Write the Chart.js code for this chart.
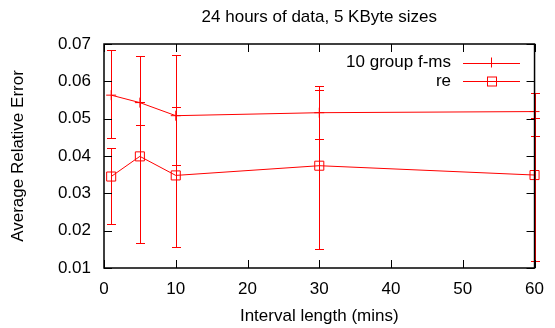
<!DOCTYPE html>
<html lang="en">
<head>
  <meta charset="UTF-8" />
  <title>24 hours of data, 5 KByte sizes</title>
  <script src="https://cdn.jsdelivr.net/npm/chart.js"></script>
  <style>
    html, body { margin: 0; padding: 0; background: #fff; }
    #wrap { width: 555px; height: 328px; }
  </style>
</head>
<body>
  <div id="wrap"><canvas id="chart"></canvas></div>

  <script>
    // interval lengths (mins)
    const intervals = [1, 5, 10, 30, 60];

    // 10 group f-ms: mean, low, high
    const fmsMean = [0.0563, 0.0543, 0.0508, 0.0516, 0.0519];
    const fmsLow  = [0.0448, 0.0482, 0.0376, 0.0445, 0.0454];
    const fmsHigh = [0.0684, 0.0668, 0.0670, 0.0577, 0.0568];

    // re: mean, low, high
    const reMean = [0.0345, 0.0399, 0.0348, 0.0374, 0.0349];
    const reLow  = [0.0218, 0.0168, 0.0155, 0.0151, 0.0119];
    const reHigh = [0.0421, 0.0545, 0.0530, 0.0587, 0.0501];

    const xTicks = [0, 10, 20, 30, 40, 50, 60];
    const yTicks = [0.01, 0.02, 0.03, 0.04, 0.05, 0.06, 0.07];

    const TITLE = "24 hours of data, 5 KByte sizes";
    const RED = "#ff0000";
    const FONT = { family: "'Liberation Sans', Arial, sans-serif", size: 17 };

    const toPoints = (ys) => intervals.map((x, i) => ({ x: x, y: ys[i] }));

    // error bars, drawn through the chart scales
    const errorBars = {
      id: "errorBars",
      beforeDatasetsDraw(chart) {
        const { ctx, scales: { x, y } } = chart;
        const sets = [[fmsLow, fmsHigh], [reLow, reHigh]];
        ctx.save();
        ctx.strokeStyle = RED;
        ctx.lineWidth = 1;
        sets.forEach(([lo, hi]) => {
          intervals.forEach((v, i) => {
            const px = Math.round(x.getPixelForValue(v)) + 0.5;
            const y1 = Math.round(y.getPixelForValue(lo[i])) + 0.5;
            const y2 = Math.round(y.getPixelForValue(hi[i])) + 0.5;
            ctx.beginPath();
            ctx.moveTo(px, y1); ctx.lineTo(px, y2);
            ctx.moveTo(px - 4.5, y1); ctx.lineTo(px + 4.5, y1);
            ctx.moveTo(px - 4.5, y2); ctx.lineTo(px + 4.5, y2);
            ctx.stroke();
          });
        });
        ctx.restore();
      }
    };

    // gnuplot style frame with inward ticks on all sides, title and key
    const frame = {
      id: "frame",
      afterDraw(chart) {
        const { ctx, chartArea: a, scales: { x, y } } = chart;
        ctx.save();
        ctx.strokeStyle = "#000";
        ctx.lineWidth = 1.5;
        ctx.strokeRect(a.left, a.top, a.right - a.left, a.bottom - a.top);
        ctx.lineWidth = 1;
        ctx.beginPath();
        xTicks.forEach(v => {
          const px = Math.round(x.getPixelForValue(v)) + 0.5;
          ctx.moveTo(px, a.bottom); ctx.lineTo(px, a.bottom - 8);
          ctx.moveTo(px, a.top); ctx.lineTo(px, a.top + 8);
        });
        yTicks.forEach(v => {
          const py = Math.round(y.getPixelForValue(v)) + 0.5;
          ctx.moveTo(a.left, py); ctx.lineTo(a.left + 8, py);
          ctx.moveTo(a.right, py); ctx.lineTo(a.right - 8, py);
        });
        ctx.stroke();

        ctx.font = FONT.size + "px " + FONT.family;
        ctx.fillStyle = "#000";

        // title, centred over the plot
        ctx.textAlign = "center";
        ctx.textBaseline = "middle";
        ctx.fillText(TITLE, (a.left + a.right) / 2, 17);

        // key
        ctx.textAlign = "right";
        const rows = [["10 group f-ms", 62.5, "cross"], ["re", 81, "rect"]];
        rows.forEach(([label, ky, shape]) => {
          ctx.fillText(label, 451, ky);
          ctx.strokeStyle = RED;
          ctx.lineWidth = 1;
          ctx.beginPath();
          ctx.moveTo(463, Math.round(ky) + 0.5);
          ctx.lineTo(520, Math.round(ky) + 0.5);
          if (shape === "cross") {
            ctx.moveTo(491.5, ky - 5); ctx.lineTo(491.5, ky + 5);
          }
          ctx.stroke();
          if (shape === "rect") {
            ctx.strokeRect(487.5, Math.round(ky) - 4, 9, 9);
          }
        });
        ctx.restore();
      }
    };

    new Chart(document.getElementById("chart"), {
      type: "scatter",
      data: {
        datasets: [
          {
            label: "10 group f-ms",
            data: toPoints(fmsMean),
            showLine: true,
            borderColor: RED,
            borderWidth: 1,
            pointStyle: "cross",
            pointRadius: 5,
            pointBorderColor: RED,
            pointBorderWidth: 1,
            clip: false
          },
          {
            label: "re",
            data: toPoints(reMean),
            showLine: true,
            borderColor: RED,
            borderWidth: 1,
            pointStyle: "rect",
            pointRadius: 6.4,
            pointBackgroundColor: "rgba(0,0,0,0)",
            pointBorderColor: RED,
            pointBorderWidth: 1,
            clip: false
          }
        ]
      },
      options: {
        responsive: true,
        maintainAspectRatio: false,
        animation: false,
        events: [],
        layout: { padding: { left: 0, right: 13, top: 44, bottom: 0 } },
        plugins: {
          legend: { display: false },
          tooltip: { enabled: false },
          title: { display: false }
        },
        scales: {
          x: {
            type: "linear",
            min: 0,
            max: 60,
            afterBuildTicks: (s) => { s.ticks = xTicks.map(v => ({ value: v })); },
            grid: { display: false, drawTicks: false },
            border: { display: false },
            ticks: { color: "#000", font: FONT, padding: 11, maxRotation: 0 },
            title: {
              display: true,
              text: "Interval length (mins)",
              color: "#000",
              font: FONT,
              padding: { top: 0, bottom: 1 }
            },
            afterFit: (s) => { s.height = 60; }
          },
          y: {
            type: "linear",
            min: 0.01,
            max: 0.07,
            afterBuildTicks: (s) => { s.ticks = yTicks.map(v => ({ value: v })); },
            grid: { display: false, drawTicks: false },
            border: { display: false },
            ticks: {
              color: "#000",
              font: FONT,
              padding: 13,
              callback: (v) => Number(v).toFixed(2)
            },
            title: {
              display: true,
              text: "Average Relative Error",
              color: "#000",
              font: FONT,
              padding: { top: 8, bottom: 0 }
            },
            afterFit: (s) => { s.width = 104; }
          }
        }
      },
      plugins: [errorBars, frame]
    });
  </script>
</body>
</html>
